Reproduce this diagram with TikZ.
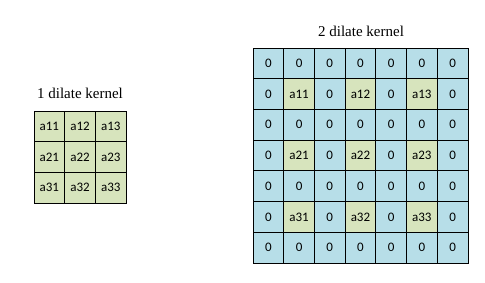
\documentclass[tikz,border=0pt]{standalone}
\usepackage{fontspec}
\setmainfont{Liberation Serif}
\newfontfamily\cellfont{Carlito}
\usetikzlibrary{positioning}
\definecolor{kblue}{RGB}{183,222,232}
\definecolor{kgreen}{RGB}{215,228,189}

\begin{document}
\begin{tikzpicture}[x=1pt, y=-1pt,
    cell/.style={draw=black, line width=0.75pt, minimum size=30.7pt, inner sep=0pt,
      font=\cellfont\fontsize{13}{13}\selectfont},
    title/.style={font=\fontsize{15}{17}\selectfont}]
    \useasboundingbox (0,0) rectangle (485,282);

    % 1 dilate kernel
    \foreach \r in {1,2,3}
      \foreach \c in {1,2,3}
        \node[cell, fill=kgreen] (k\r\c) at ({34+30.7*(\c-0.5)}, {111+30.7*(\r-0.5)}) {a\r\c};
    \node[title] (t1) at (80,93) {1 dilate kernel};

    % 2 dilate kernel
    \foreach \r in {0,...,6}
      \foreach \c in {0,...,6} {
        \pgfmathtruncatemacro\isk{and(mod(\r,2)==1, mod(\c,2)==1)}
        \pgfmathtruncatemacro\i{(\r+1)/2}
        \pgfmathtruncatemacro\j{(\c+1)/2}
        \ifnum\isk=1
          \node[cell, fill=kgreen] (d\r\c) at ({253+30.7*(\c+0.5)}, {48+30.7*(\r+0.5)}) {a\i\j};
        \else
          \node[cell, fill=kblue] (d\r\c) at ({253+30.7*(\c+0.5)}, {48+30.7*(\r+0.5)}) {0};
        \fi
      }
    \node[title] (t2) at (361,31) {2 dilate kernel};
\end{tikzpicture}
\end{document}
